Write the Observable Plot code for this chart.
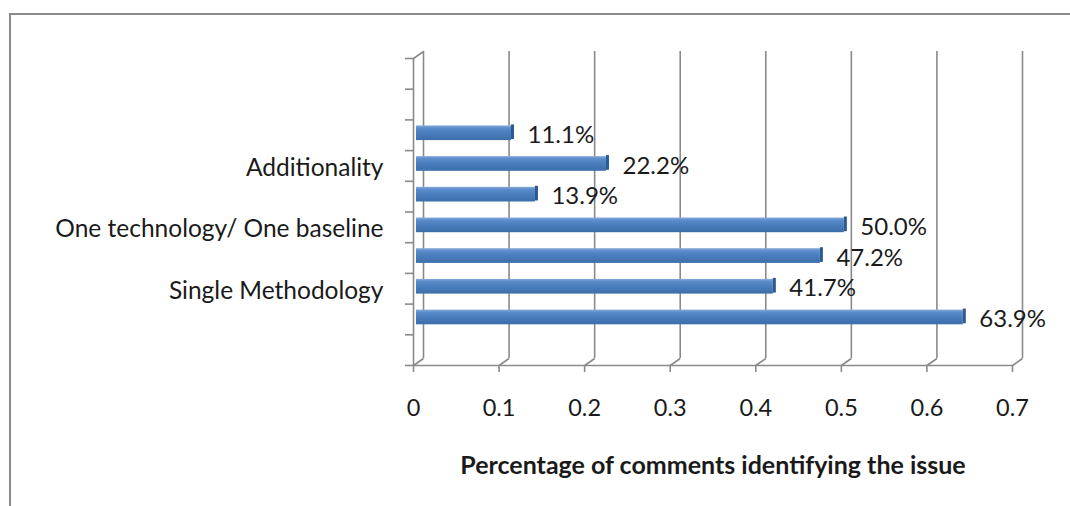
<!DOCTYPE html>
<html><head><meta charset="utf-8">
<script src="https://cdn.jsdelivr.net/npm/d3@7"></script>
<script src="https://cdn.jsdelivr.net/npm/@observablehq/plot@0.6"></script>
<style>
html,body{margin:0;padding:0;background:#fff;}
#wrap{position:relative;width:1070px;height:506px;overflow:hidden;}
#frame{position:absolute;left:9px;top:13px;right:-10px;bottom:-10px;border-top:2px solid #8a8a8a;border-left:2px solid #8a8a8a;pointer-events:none;}
</style></head><body>
<div id="wrap"><div id="frame"></div></div>
<script>
// ---- data ----
const categories = ["", "", "", "Additionality", "", "One technology/ One baseline", "", "Single Methodology", "", ""];
const values = [null, null, 0.111, 0.222, 0.139, 0.500, 0.472, 0.417, 0.639, null];
const valueLabels = ["", "", "11.1%", "22.2%", "13.9%", "50.0%", "47.2%", "41.7%", "63.9%", ""];
const xTicks = [0, 0.1, 0.2, 0.3, 0.4, 0.5, 0.6, 0.7];
const xTickLabels = ["0", "0.1", "0.2", "0.3", "0.4", "0.5", "0.6", "0.7"];
const axisTitle = "Percentage of comments identifying the issue";

// ---- layout ----
const W = 1070, H = 506, mL = 413, mR = 58, mT = 58, mB = 141;
const DEPTH_X = 10, DEPTH_Y = 7;
const plotW = W - mL - mR, plotH = H - mT - mB;
const nBands = categories.length;
const dxData = DEPTH_X * 0.7 / plotW;
const dyData = DEPTH_Y * nBands / plotH;
const gridColor = "#8a8a8a", textColor = "#1a1a1a";
const barInset = 8;

const rows = categories.map((c, i) => ({i, cat: c, v: values[i], label: valueLabels[i]}));
const bars = rows.filter(d => d.v != null);

const svg = Plot.plot({
  width: W, height: H,
  marginLeft: mL, marginRight: mR, marginTop: mT, marginBottom: mB,
  style: {fontFamily: "Lato, 'Open Sans', sans-serif", fontSize: "22px", color: textColor, background: "transparent"},
  x: {domain: [0, 0.7], axis: null},
  y: {domain: [0, nBands], reverse: true, axis: null},
  marks: [
    // back wall gridlines
    Plot.ruleX(xTicks, {x: d => d, y1: 0, y2: nBands, dx: DEPTH_X, dy: -DEPTH_Y, stroke: gridColor, strokeWidth: 1.6}),
    // floor diagonals
    Plot.link(xTicks, {x1: d => d, x2: d => d + dxData, y1: nBands, y2: nBands - dyData, stroke: gridColor, strokeWidth: 1.6}),
    Plot.link([0], {x1: 0, x2: dxData, y1: 0, y2: -dyData, stroke: gridColor, strokeWidth: 1.6}),
    // front axes
    Plot.ruleX([0], {y1: 0, y2: nBands, stroke: gridColor, strokeWidth: 1.6}),
    Plot.ruleY([nBands], {x1: 0, x2: 0.7, stroke: gridColor, strokeWidth: 1.6}),
    Plot.axisY({ticks: d3.range(0, nBands + 1), tickSize: 8, tickFormat: () => "", stroke: gridColor, strokeWidth: 1.6}),
    Plot.axisX({ticks: xTicks, tickSize: 7, tickPadding: 27, stroke: gridColor, strokeWidth: 1.6, fontSize: 23.5,
      tickFormat: d => xTickLabels[xTicks.indexOf(d)], fill: textColor, label: null}),
    // bars (3D look)
    Plot.rect(bars, {x1: 0, x2: "v", y1: d => d.i, y2: d => d.i + 1, insetTop: barInset, insetBottom: barInset,
      dx: 3, dy: -2, fill: "url(#barGrad)"}),
    Plot.rect(bars, {x1: "v", x2: "v", y1: d => d.i, y2: d => d.i + 1, insetTop: barInset - 1, insetBottom: barInset + 1,
      insetLeft: 0, insetRight: -3, dx: 3, dy: -2, fill: "#2c5a92"}),
    // value labels
    Plot.text(bars, {x: "v", y: d => d.i + 0.5, text: "label", textAnchor: "start", dx: 19, fontSize: 24, fill: textColor}),
    // category labels
    Plot.text(rows.filter(d => d.cat), {x: 0, y: d => d.i + 0.5, text: "cat", textAnchor: "end", dx: -30, dy: 2, fontSize: 24.5, fill: textColor}),
    // axis title
    Plot.text([axisTitle], {text: d => d, frameAnchor: "bottom", dy: 100, lineAnchor: "middle", fontWeight: "bold", fontSize: 25, fill: textColor})
  ]
});

const defs = d3.select(svg).insert("defs", ":first-child");
const g = defs.append("linearGradient").attr("id", "barGrad").attr("x1", 0).attr("y1", 0).attr("x2", 0).attr("y2", 1);
[[0, "#86abdc"], [0.18, "#5b8ccb"], [0.5, "#4a7ebd"], [1, "#3c6ea9"]].forEach(([o, c]) =>
  g.append("stop").attr("offset", o).attr("stop-color", c));

document.getElementById("wrap").prepend(svg);
</script>
</body></html>
